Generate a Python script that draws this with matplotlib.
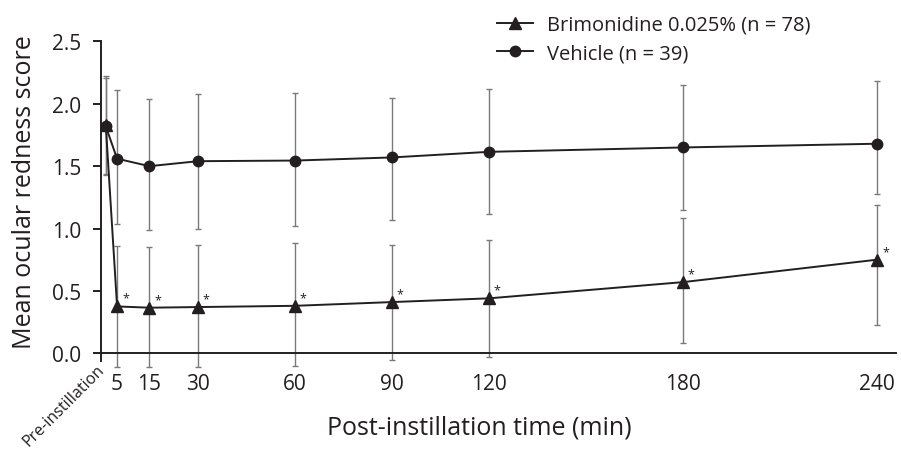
import matplotlib.pyplot as plt

plt.rcParams['font.family'] = ['Open Sans', 'DejaVu Sans']

# time points (pre-instillation drawn just right of 0)
times = [1.5, 5, 15, 30, 60, 90, 120, 180, 240]
tick_labels = ['Pre-instillation', '5', '15', '30', '60', '90', '120', '180', '240']

brim_mean = [1.83, 0.375, 0.365, 0.37, 0.38, 0.41, 0.44, 0.57, 0.75]
brim_upper = [2.21, 0.86, 0.85, 0.865, 0.885, 0.87, 0.905, 1.085, 1.19]
brim_lower = [1.44, -0.11, -0.11, -0.11, -0.10, -0.055, -0.03, 0.085, 0.225]

veh_mean = [1.82, 1.56, 1.50, 1.54, 1.545, 1.57, 1.615, 1.65, 1.68]
veh_upper = [2.22, 2.11, 2.04, 2.08, 2.085, 2.05, 2.12, 2.155, 2.18]
veh_lower = [1.43, 1.035, 0.985, 1.0, 1.02, 1.065, 1.115, 1.15, 1.275]

# points significantly different from vehicle
star_times = times[1:]
star_means = brim_mean[1:]

ink = '#231f20'
err_col = '#7a7a7a'

fig = plt.figure(figsize=(9.01, 4.52), dpi=100)
ax = fig.add_axes([0.112, 0.175, 0.883, 0.731])

brim_err = [[m - lo for m, lo in zip(brim_mean, brim_lower)],
            [hi - m for m, hi in zip(brim_mean, brim_upper)]]
veh_err = [[m - lo for m, lo in zip(veh_mean, veh_lower)],
           [hi - m for m, hi in zip(veh_mean, veh_upper)]]

ax.errorbar(times, veh_mean, yerr=veh_err, fmt='none', ecolor=err_col,
            elinewidth=1.0, capsize=2.5, capthick=1.0, clip_on=False, zorder=2)
ax.errorbar(times, brim_mean, yerr=brim_err, fmt='none', ecolor=err_col,
            elinewidth=1.0, capsize=2.5, capthick=1.0, clip_on=False, zorder=2)

ax.plot(times, brim_mean, color=ink, lw=1.4, marker='^', ms=8.5,
        label='Brimonidine 0.025% (n = 78)', clip_on=False, zorder=4)
ax.plot(times, veh_mean, color=ink, lw=1.4, marker='o', ms=7.5,
        label='Vehicle (n = 39)', clip_on=False, zorder=3)

for t, m in zip(star_times, star_means):
    ax.annotate('*', (t, m), xytext=(6, 6), textcoords='offset points',
                ha='center', va='center', fontsize=9, color=ink)

ax.set_xlim(0, 246)
ax.set_ylim(-0.15, 2.5)
ax.spines['top'].set_visible(False)
ax.spines['right'].set_visible(False)
ax.spines['bottom'].set_position(('data', 0))
ax.spines['left'].set_bounds(0, 2.5)
for s in ('bottom', 'left'):
    ax.spines[s].set_color(ink)
    ax.spines[s].set_linewidth(1.4)

ax.set_yticks([0, 0.5, 1.0, 1.5, 2.0, 2.5])
ax.set_yticklabels(['0.0', '0.5', '1.0', '1.5', '2.0', '2.5'])
ax.tick_params(axis='y', direction='out', length=6, width=1.4, color=ink,
               labelsize=15, labelcolor=ink, pad=8)

ax.set_xticks(times[1:])
ax.set_xticklabels(tick_labels[1:])
ax.tick_params(axis='x', length=0, labelsize=15, labelcolor=ink, pad=14)

# rotated label for the baseline measurement
ax.annotate(tick_labels[0], (times[0], 0), xytext=(-7, -6),
            textcoords='offset points', rotation=45, rotation_mode='anchor',
            ha='right', va='top', fontsize=11.5, color=ink)

# small tick at the origin, pointing down
ax.plot([0, 0], [0, -0.06], color=ink, lw=1.4, clip_on=False)

ax.set_ylabel('Mean ocular redness score', fontsize=18, color=ink)
ax.yaxis.set_label_coords(-0.08, 0.548)
ax.set_xlabel('Post-instillation time (min)', fontsize=18, color=ink)
ax.xaxis.set_label_coords(0.475, -0.13)

ax.legend(loc='upper left', bbox_to_anchor=(497 / 901, 1 - 16 / 452),
          bbox_transform=fig.transFigure, frameon=False, borderpad=0,
          borderaxespad=0, fontsize=14.5, handlelength=1.8,
          handletextpad=0.7, labelspacing=0.4, labelcolor=ink)

fig.savefig('out.png', dpi=100)
